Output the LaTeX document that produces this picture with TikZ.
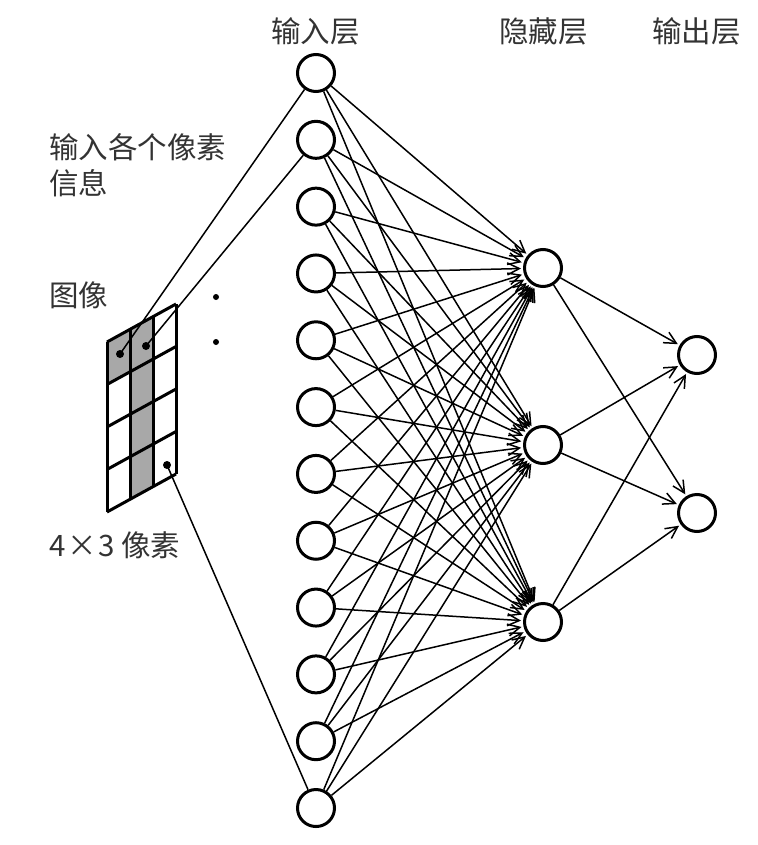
\documentclass[tikz,border=0pt]{standalone}
\usepackage{fontspec}
\setmainfont{Noto Sans CJK SC}
\usetikzlibrary{arrows.meta}
\definecolor{cellgrey}{HTML}{A8A8A8}
\tikzset{
  neuron/.style={circle, draw=black, line width=3pt, minimum size=37pt, inner sep=0pt, fill=white},
  conn/.style={line width=1.5pt, -{Straight Barb[length=12pt,width=12pt,line width=1.5pt]}, shorten >=2pt},
  plainconn/.style={line width=1.5pt},
  lbl/.style={anchor=west, inner sep=0pt, font=\fontsize{29.5pt}{34pt}\selectfont, text=black!80},
  pixdot/.style={circle, fill=black, minimum size=8pt, inner sep=0pt},
  ell/.style={circle, fill=black, minimum size=6pt, inner sep=0pt},
  gridline/.style={line width=3pt, line join=miter}
}
\begin{document}
\begin{tikzpicture}[x=1pt,y=-1pt]
\useasboundingbox (0,0) rectangle (757,845);

% labels
\node[lbl] (tin) at (271,31) {输入层};
\node[lbl] (thid) at (499,31) {隐藏层};
\node[lbl] (tout) at (652,31) {输出层};
\node[lbl] (tpix1) at (49,147) {输入各个像素};
\node[lbl] (tpix2) at (49,183) {信息};
\node[lbl] (timg) at (49,295) {图像};
\node[lbl] (tsize) at (49,545) {4{\kern1.5pt}×{\kern1.5pt}3 像素};

% grid (parallelogram 3 columns x 4 rows)
\fill[cellgrey] (107,342) -- (130,329.33) -- (130,371.83) -- (107,384.5) -- cycle;
\fill[cellgrey] (130,329.33) -- (153,316.67) -- (153,486.67) -- (130,499.33) -- cycle;
\foreach \u in {0,1,2,3} {
  \draw[gridline] ({107+23*\u},{342-12.667*\u}) -- ({107+23*\u},{512-12.667*\u});
}
\foreach \v in {0,1,2,3,4} {
  \draw[gridline] (107,{342+42.5*\v}) -- (176,{304+42.5*\v});
}

% ellipsis dots
\node[ell] (e1) at (216,297) {};
\node[ell] (e2) at (216,342) {};

% neurons
\foreach \k [evaluate=\k as \yy using {73+66.82*(\k-1)}] in {1,...,12} {
  \node[neuron] (i\k) at (316,\yy) {};
}
\node[neuron] (h1) at (543,268) {};
\node[neuron] (h2) at (543,445) {};
\node[neuron] (h3) at (543,622) {};
\node[neuron] (o1) at (697,355) {};
\node[neuron] (o2) at (697,513) {};

% pixel dots and lines to inputs
\node[pixdot] (d1) at (120,354) {};
\node[pixdot] (d2) at (146,346) {};
\node[pixdot] (d3) at (167,465) {};
\draw[plainconn] (d1.center) -- (i1);
\draw[plainconn] (d2.center) -- (i2);
\draw[plainconn] (d3.center) -- (i12);

% connections
\foreach \k in {1,...,12} {
  \foreach \h in {1,2,3} {
    \draw[conn] (i\k) -- (h\h);
  }
}
\foreach \h in {1,2,3} {
  \foreach \o in {1,2} {
    \draw[conn] (h\h) -- (o\o);
  }
}
\end{tikzpicture}
\end{document}
